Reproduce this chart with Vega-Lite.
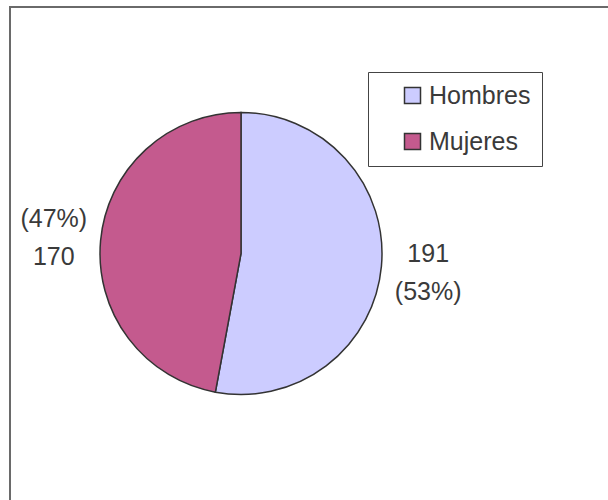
{
  "$schema": "https://vega.github.io/schema/vega-lite/v6.json",
  "autosize": {"type": "none"},
  "padding": {"left": 10, "top": 7, "right": 0, "bottom": 0},
  "width": 600,
  "height": 495,
  "background": "#ffffff",
  "view": {"stroke": "#6a6a6a", "strokeWidth": 2},
  "config": {
    "view": {"stroke": "#6a6a6a", "strokeWidth": 2},
    "font": "Liberation Sans"
  },
  "data": {
    "values": [
      {"sexo": "Hombres", "n": 191, "etiqueta": "191\n(53%)"},
      {"sexo": "Mujeres", "n": 170, "etiqueta": "(47%)\n170"}
    ]
  },
  "encoding": {
    "theta": {"field": "n", "type": "quantitative", "stack": true},
    "order": {"field": "n", "type": "quantitative", "sort": "descending"}
  },
  "layer": [
    {
      "mark": {"type": "arc", "outerRadius": 141, "stroke": "#333333", "strokeWidth": 1.5, "xOffset": -69, "yOffset": -1},
      "encoding": {
        "color": {
          "field": "sexo",
          "type": "nominal",
          "scale": {"domain": ["Hombres", "Mujeres"], "range": ["#CCCCFF", "#C45A8E"]},
          "legend": {
            "title": null,
            "orient": "none",
            "legendX": 358,
            "legendY": 65,
            "symbolType": "square",
            "symbolSize": 256,
            "symbolStrokeColor": "#333333",
            "symbolStrokeWidth": 1.5,
            "symbolOpacity": 1,
            "symbolOffset": 21,
            "labelFontSize": 25,
            "labelColor": "#3a3a3a",
            "labelFont": "Liberation Sans",
            "labelOffset": 4,
            "rowPadding": 20,
            "padding": 11,
            "strokeColor": "#444444"
          }
        }
      }
    },
    {
      "mark": {"type": "text", "radius": 188, "fontSize": 25, "color": "#3a3a3a", "lineBreak": "\n", "lineHeight": 38, "align": "center", "baseline": "middle", "xOffset": -69, "yOffset": -18},
      "encoding": {
        "detail": {"field": "sexo", "type": "nominal"},
        "text": {"field": "etiqueta", "type": "nominal"}
      }
    }
  ]
}
